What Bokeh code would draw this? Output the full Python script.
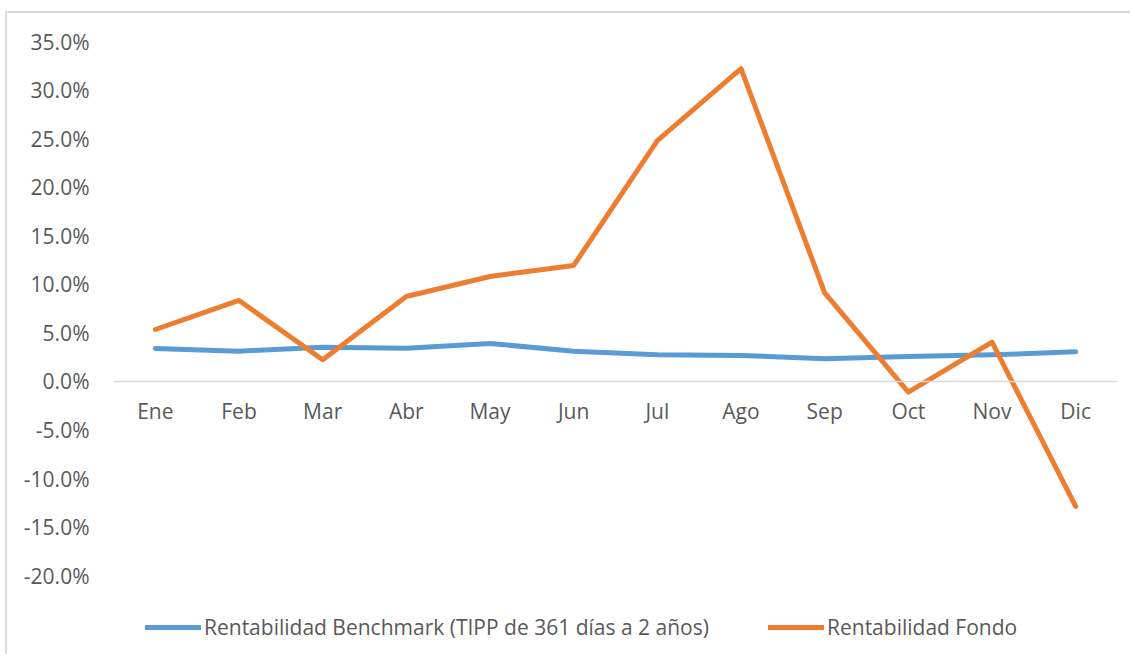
from bokeh.plotting import figure
from bokeh.models import (FactorRange, Range1d, FixedTicker, NumeralTickFormatter,
                          Span, Legend, LegendItem, ColumnDataSource)
from bokeh.core.properties import value
from bokeh.embed import file_html
from bokeh.resources import INLINE

months = ["Ene", "Feb", "Mar", "Abr", "May", "Jun", "Jul", "Ago", "Sep", "Oct", "Nov", "Dic"]
benchmark = [0.0339, 0.0312, 0.0353, 0.0343, 0.0391, 0.0312, 0.0274, 0.0268, 0.0233, 0.0257, 0.0274, 0.0305]
fondo = [0.0535, 0.0834, 0.0223, 0.0875, 0.1081, 0.1194, 0.2480, 0.3220, 0.0913, -0.0110, 0.0405, -0.1287]
y_ticks = [-0.20, -0.15, -0.10, -0.05, 0.0, 0.05, 0.10, 0.15, 0.20, 0.25, 0.30, 0.35]
label_y = [0.0] * len(months)

FONT = "Open Sans"
FS = "21px"
TXT = "#595959"

src = ColumnDataSource(dict(m=months, b=benchmark, f=fondo, ly=label_y))

# the frame extends below -20% so the legend (drawn inside the frame) is not clipped
p = figure(width=1125, height=643, output_backend="svg", toolbar_location=None,
           x_range=FactorRange(*months, range_padding=0),
           y_range=Range1d(-0.277, y_ticks[-1]),
           x_axis_location=None,
           min_border_left=106, min_border_right=15, min_border_top=28, min_border_bottom=6)
p.styles = {"margin-left": "5px", "margin-top": "11px",
            "border-top": "2px solid #d9d9d9", "border-left": "2px solid #d9d9d9"}
p.outline_line_color = None
p.grid.visible = False
p.background_fill_color = "white"
p.border_fill_color = "white"

ax = p.yaxis[0]
ax.ticker = FixedTicker(ticks=y_ticks)
ax.formatter = NumeralTickFormatter(format="0.0%")
ax.axis_line_color = None
ax.major_tick_line_color = None
ax.minor_tick_line_color = None
ax.major_label_standoff = 18
ax.major_label_text_font = FONT
ax.major_label_text_font_size = FS
ax.major_label_text_color = TXT

p.add_layout(Span(location=0, dimension="width", line_color="#d9d9d9", line_width=1.5))

p.text(x="m", y="ly", text="m", source=src, y_offset=30, text_align="center",
       text_baseline="middle", text_font=value(FONT), text_font_size=FS, text_color=TXT)

r_b = p.line(x="m", y="b", source=src, line_color="#5B9BD5", line_width=5,
             line_cap="round", line_join="round")
r_f = p.line(x="m", y="f", source=src, line_color="#ED7D31", line_width=5,
             line_cap="round", line_join="round")

def mk_legend(label, r, x):
    lg = Legend(items=[LegendItem(label=label, renderers=[r])], location=(x, 9),
                orientation="horizontal", padding=0, margin=0, border_line_color=None,
                background_fill_alpha=0, glyph_width=56, glyph_height=20, label_height=20,
                label_standoff=3, label_text_font=FONT, label_text_font_size=FS,
                label_text_color=TXT)
    p.add_layout(lg)

mk_legend("Rentabilidad Benchmark (TIPP de 361 días a 2 años)", r_b, 32)
mk_legend("Rentabilidad Fondo", r_f, 655)

open("out.html", "w").write(file_html(p, INLINE))
